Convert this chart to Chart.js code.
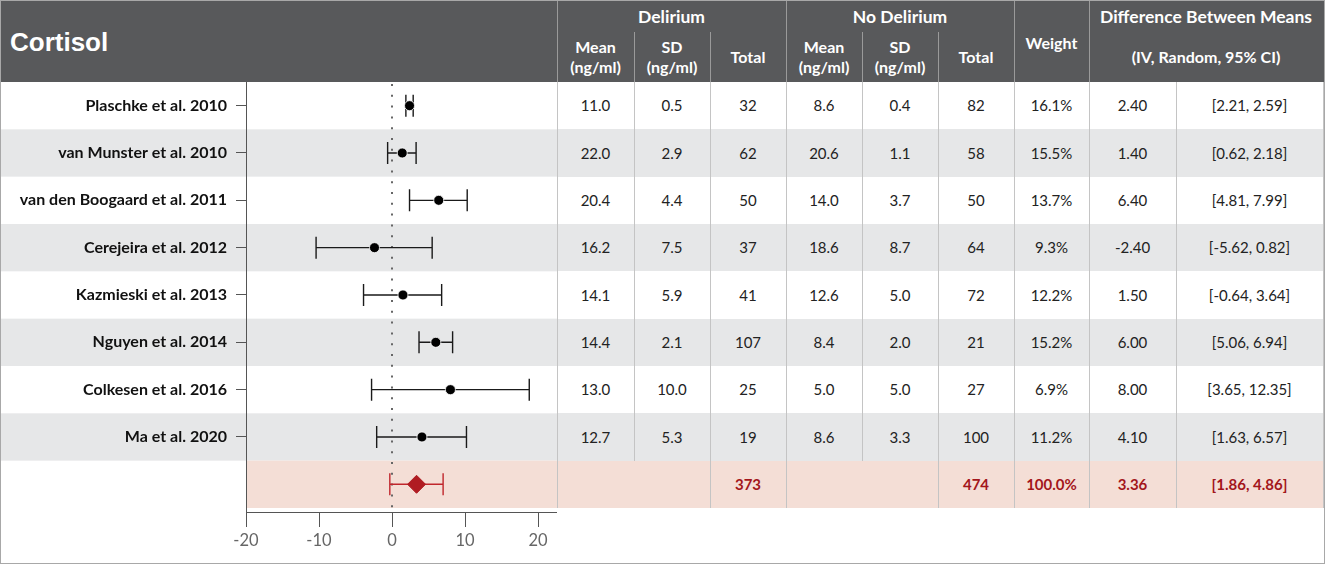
<!DOCTYPE html>
<html>
<head>
<meta charset="utf-8">
<script src="https://cdn.jsdelivr.net/npm/chart.js@4.4.1/dist/chart.umd.min.js"></script>
<style>
body{margin:0;background:#fff;font-family:Lato,sans-serif}
#fig{position:relative;width:1325px;height:564px;overflow:hidden;background:#fff}
.c{position:absolute;display:flex;align-items:center;justify-content:center;text-align:center;box-sizing:border-box;font-size:15px;color:#222;line-height:1.25}
.h{color:#fff;font-weight:bold;font-size:16px}
.g{font-size:17.5px}
.l{position:absolute;width:1px}
#cab{position:absolute;left:0;top:0;width:1325px;height:82px;background:#58595b}
#titulo{position:absolute;left:10px;top:27px;font-family:"Liberation Sans",Arial,sans-serif;font-weight:bold;font-size:26px;color:#fff}
#grafico{position:absolute;left:0;top:82px;width:557px;height:482px}
#marco{position:absolute;left:0;top:0;width:1325px;height:564px;border:1px solid #a8a8a8;box-sizing:border-box;pointer-events:none}
</style>
</head>
<body>
<div id="fig">
  <div id="cab"><div id="titulo">Cortisol</div></div>
  <div id="grafico"><canvas id="forest"></canvas></div>
  <div id="marco"></div>
</div>
<script>
// Datos de la tabla
var estudios = ['Plaschke et al. 2010', 'van Munster et al. 2010', 'van den Boogaard et al. 2011', 'Cerejeira et al. 2012',
    'Kazmieski et al. 2013', 'Nguyen et al. 2014', 'Colkesen et al. 2016', 'Ma et al. 2020'];
var mediaDel = ['11.0', '22.0', '20.4', '16.2', '14.1', '14.4', '13.0', '12.7'];
var sdDel = ['0.5', '2.9', '4.4', '7.5', '5.9', '2.1', '10.0', '5.3'];
var totalDel = [32, 62, 50, 37, 41, 107, 25, 19];
var mediaNo = ['8.6', '20.6', '14.0', '18.6', '12.6', '8.4', '5.0', '8.6'];
var sdNo = ['0.4', '1.1', '3.7', '8.7', '5.0', '2.0', '5.0', '3.3'];
var totalNo = [82, 58, 50, 64, 72, 21, 27, 100];
var peso = ['16.1%', '15.5%', '13.7%', '9.3%', '12.2%', '15.2%', '6.9%', '11.2%'];
var diferencia = [2.40, 1.40, 6.40, -2.40, 1.50, 6.00, 8.00, 4.10];
var intervalo = ['[2.21, 2.59]', '[0.62, 2.18]', '[4.81, 7.99]', '[-5.62, 0.82]', '[-0.64, 3.64]', '[5.06, 6.94]', '[3.65, 12.35]', '[1.63, 6.57]'];
// extremos de los bigotes tal como se dibujan en el grafico
var bigoteMin = [1.9, -0.6, 2.4, -10.4, -3.9, 3.7, -2.8, -2.1];
var bigoteMax = [2.9, 3.3, 10.3, 5.5, 6.8, 8.3, 18.8, 10.2];
// fila del resultado global
var totalGlobalDel = 373, totalGlobalNo = 474;
var pesoGlobal = '100.0%';
var difGlobal = 3.36;
var intervaloGlobal = '[1.86, 4.86]';
var bigoteGlobal = [-0.3, 7.0];
var ticksX = [-20, -10, 0, 10, 20];

var bordes = [557, 634, 710, 786, 862, 938, 1014, 1089, 1176, 1323];
var altoFila = 430 / 9.085;
var fig = document.getElementById('fig');

function celda(x0, x1, y0, h, texto, clase, estilo) {
    var d = document.createElement('div');
    d.className = 'c ' + (clase || '');
    d.style.left = x0 + 'px'; d.style.width = (x1 - x0) + 'px';
    d.style.top = y0 + 'px'; d.style.height = h + 'px';
    if (estilo) d.style.cssText += estilo;
    d.innerHTML = texto;
    fig.insertBefore(d, document.getElementById('marco'));
    return d;
}
function linea(x, y0, y1, color) {
    var d = document.createElement('div');
    d.className = 'l';
    d.style.left = x + 'px'; d.style.top = y0 + 'px'; d.style.height = (y1 - y0) + 'px'; d.style.background = color;
    fig.insertBefore(d, document.getElementById('marco'));
}

// Cabecera
celda(bordes[0], bordes[3], 4, 26, 'Delirium', 'h g');
celda(bordes[3], bordes[6], 4, 26, 'No Delirium', 'h g');
celda(bordes[7], bordes[9], 4, 26, 'Difference Between Means', 'h g');
celda(bordes[0], bordes[1], 32, 50, 'Mean<br>(ng/ml)', 'h');
celda(bordes[1], bordes[2], 32, 50, 'SD<br>(ng/ml)', 'h');
celda(bordes[2], bordes[3], 32, 50, 'Total', 'h');
celda(bordes[3], bordes[4], 32, 50, 'Mean<br>(ng/ml)', 'h');
celda(bordes[4], bordes[5], 32, 50, 'SD<br>(ng/ml)', 'h');
celda(bordes[5], bordes[6], 32, 50, 'Total', 'h');
celda(bordes[6], bordes[7], 10, 66, 'Weight', 'h');
celda(bordes[7], bordes[9], 32, 50, '(IV, Random, 95% CI)', 'h');
[0, 3, 6, 7].forEach(function (k) { linea(bordes[k], 0, 82, '#9a9a9a'); });
[1, 2, 4, 5].forEach(function (k) { linea(bordes[k], 32, 82, '#9a9a9a'); });

// Filas de estudios
for (var i = 0; i < estudios.length; i++) {
    var y0 = 82 + altoFila * i;
    var fondo = i % 2 == 1 ? '#e6e7e8' : '#ffffff';
    var valores = [mediaDel[i], sdDel[i], totalDel[i], mediaNo[i], sdNo[i], totalNo[i], peso[i], diferencia[i].toFixed(2), intervalo[i]];
    for (var k = 0; k < valores.length; k++) {
        celda(bordes[k], bordes[k + 1], y0, altoFila, valores[k], '', 'background:' + fondo);
    }
}
// Fila global
var yG = 82 + altoFila * estudios.length;
var rojo = 'color:#a3161b;font-weight:bold;background:#f4ded6';
celda(bordes[0], bordes[2], yG, altoFila, '', '', rojo);
celda(bordes[2], bordes[3], yG, altoFila, totalGlobalDel, '', rojo);
celda(bordes[3], bordes[5], yG, altoFila, '', '', rojo);
celda(bordes[5], bordes[6], yG, altoFila, totalGlobalNo, '', rojo);
celda(bordes[6], bordes[7], yG, altoFila, pesoGlobal, '', rojo);
celda(bordes[7], bordes[8], yG, altoFila, difGlobal.toFixed(2), '', rojo);
celda(bordes[8], bordes[9], yG, altoFila, intervaloGlobal, '', rojo);
// separadores verticales del cuerpo
bordes.forEach(function (x, k) {
    var fin = (k == 1 || k == 4) ? yG : yG + altoFila;
    linea(x, 82, fin, '#c4c4c4');
});

Chart.defaults.font.family = 'Lato';

var fondoFilas = {
    id: 'fondoFilas',
    beforeDraw: function (chart) {
        var ctx = chart.ctx, area = chart.chartArea, ys = chart.scales.y;
        ctx.save();
        for (var i = 0; i <= estudios.length; i++) {
            var a = ys.getPixelForValue(i - 0.5), b = ys.getPixelForValue(i + 0.5);
            if (i == estudios.length) {
                ctx.fillStyle = '#f4ded6';
                ctx.fillRect(area.left, a, area.right - area.left, b - a);
            } else if (i % 2 == 1) {
                ctx.fillStyle = '#e6e7e8';
                ctx.fillRect(0, a, area.right, b - a);
            }
        }
        ctx.restore();
    },
    beforeDatasetsDraw: function (chart) {
        var ctx = chart.ctx, area = chart.chartArea, xs = chart.scales.x, ys = chart.scales.y;
        ctx.save();
        // linea punteada en cero
        var x0 = Math.round(xs.getPixelForValue(0));
        ctx.strokeStyle = '#666';
        ctx.lineWidth = 2;
        ctx.setLineDash([2, 8.8]);
        ctx.beginPath();
        ctx.moveTo(x0, area.top + 2);
        ctx.lineTo(x0, area.bottom);
        ctx.stroke();
        ctx.setLineDash([]);
        // bigotes
        function bigote(min, max, fila, color) {
            var a = xs.getPixelForValue(min), b = xs.getPixelForValue(max), y = ys.getPixelForValue(fila);
            ctx.strokeStyle = color;
            ctx.lineWidth = 1.4;
            ctx.beginPath();
            ctx.moveTo(a, y); ctx.lineTo(b, y);
            ctx.moveTo(a, y - 11); ctx.lineTo(a, y + 11);
            ctx.moveTo(b, y - 11); ctx.lineTo(b, y + 11);
            ctx.stroke();
        }
        for (var i = 0; i < estudios.length; i++) {
            bigote(bigoteMin[i], bigoteMax[i], i, '#1a1a1a');
        }
        bigote(bigoteGlobal[0], bigoteGlobal[1], estudios.length, '#c0262c');
        ctx.restore();
    }
};

function sinRelleno(scale) {
    scale.paddingTop = 0; scale.paddingBottom = 0;
    scale.paddingLeft = 0; scale.paddingRight = 0;
}

var puntos = diferencia.map(function (d, i) { return { x: d, y: i }; });

new Chart(document.getElementById('forest'), {
    type: 'scatter',
    data: {
        datasets: [{
            data: puntos,
            backgroundColor: '#000',
            borderColor: '#fff',
            borderWidth: 0.8,
            pointRadius: 5,
            pointHoverRadius: 5
        }, {
            data: [{ x: difGlobal, y: estudios.length }],
            backgroundColor: '#b01c22',
            borderColor: '#b01c22',
            pointStyle: 'rectRot',
            pointRadius: 9,
            pointHoverRadius: 9
        }]
    },
    options: {
        responsive: true,
        maintainAspectRatio: false,
        animation: false,
        layout: { padding: 0, autoPadding: false },
        plugins: { legend: { display: false }, tooltip: { enabled: false } },
        scales: {
            x: {
                type: 'linear',
                min: -20,
                max: 22.6,
                afterBuildTicks: function (scale) { scale.ticks = ticksX.map(function (v) { return { value: v }; }); },
                afterFit: function (scale) { scale.height = 52; sinRelleno(scale); },
                grid: { drawOnChartArea: false, tickLength: 15, color: '#555' },
                border: { color: '#555' },
                ticks: { color: '#666', font: { size: 16.5 }, padding: 4 }
            },
            y: {
                type: 'linear',
                reverse: true,
                min: -0.5,
                max: 8.585,
                afterBuildTicks: function (scale) { scale.ticks = estudios.map(function (e, i) { return { value: i }; }); },
                afterFit: function (scale) { scale.width = 246; sinRelleno(scale); },
                grid: { drawOnChartArea: false, tickLength: 10, color: '#555' },
                border: { color: '#555' },
                ticks: {
                    color: '#111',
                    font: { size: 16, weight: 'bold' },
                    padding: 9,
                    callback: function (v) { return estudios[v]; }
                }
            }
        }
    },
    plugins: [fondoFilas]
});
</script>
</body>
</html>
